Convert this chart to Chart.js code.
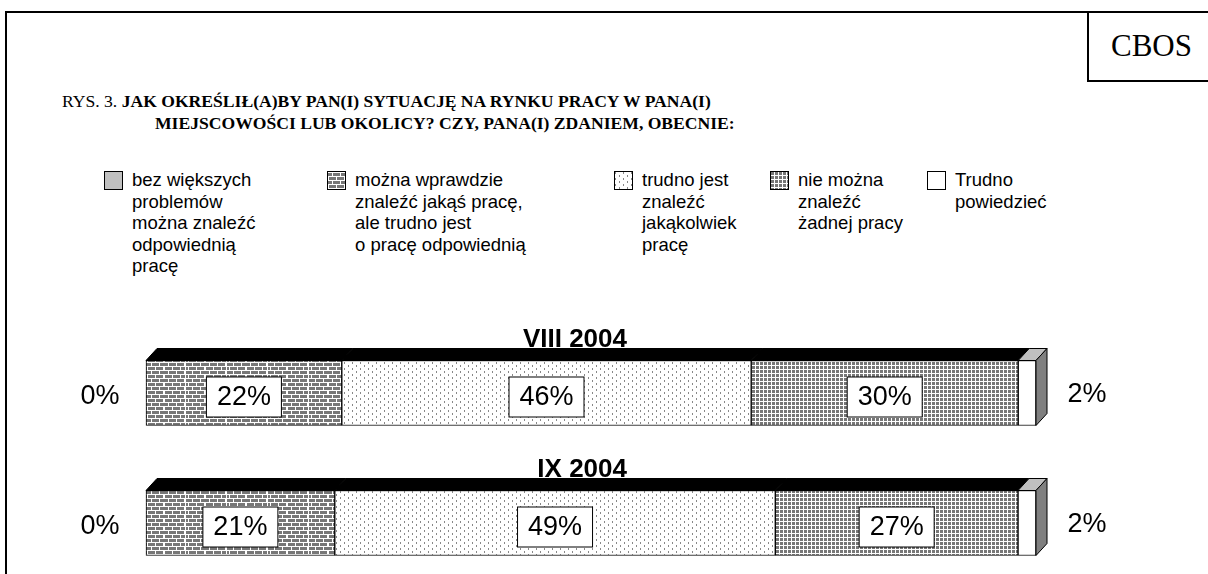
<!DOCTYPE html>
<html>
<head>
<meta charset="utf-8">
<script src="https://cdn.jsdelivr.net/npm/chart.js@4.4.1/dist/chart.umd.min.js"></script>
<style>
  body { margin: 0; width: 1208px; height: 574px; overflow: hidden; background: #fff; position: relative; font-family: Arial, "Liberation Sans", sans-serif; }
  .line { position: absolute; background: #000; }
  #cbos { position: absolute; left: 1087px; top: 11px; width: 121px; height: 71px; border-left: 2px solid #000; border-bottom: 2px solid #000; box-sizing: border-box;
          font-family: "Liberation Serif", "Times New Roman", serif; font-size: 31px; line-height: 69px; text-align: center; padding-left: 6px; }
  .title { position: absolute; font-family: "Liberation Serif", "Times New Roman", serif; font-size: 17.6px; font-weight: bold; white-space: nowrap; }
  .title span { font-weight: normal; }
  .leg { position: absolute; top: 169px; font-size: 18.5px; line-height: 21.5px; white-space: pre; }
  .sw { position: absolute; width: 19px; height: 19px; border: 1px solid #000; box-sizing: border-box; top: 171px; }
  #wrap { position: absolute; left: 0; top: 290px; width: 1208px; height: 284px; }
</style>
</head>
<body>
<div class="line" style="left:5px;top:11px;width:1203px;height:2px"></div>
<div class="line" style="left:5px;top:11px;width:2px;height:563px"></div>
<div id="cbos">CBOS</div>
<div class="title" style="left:62px;top:91px"><span>RYS. 3. </span>JAK OKREŚLIŁ(A)BY PAN(I) SYTUACJĘ NA RYNKU PRACY W PANA(I)</div>
<div class="title" style="left:155px;top:113px">MIEJSCOWOŚCI LUB OKOLICY? CZY, PANA(I) ZDANIEM, OBECNIE:</div>
<div id="legend"></div>
<div id="wrap"><canvas id="c" width="1208" height="284"></canvas></div>
<script>
const categories = ['VIII 2004', 'IX 2004'];
const legendLabels = [
  'bez większych\nproblemów\nmożna znaleźć\nodpowiednią\npracę',
  'można wprawdzie\nznaleźć jakąś pracę,\nale trudno jest\no pracę odpowiednią',
  'trudno jest\nznaleźć\njakąkolwiek\npracę',
  'nie można\nznaleźć\nżadnej pracy',
  'Trudno\npowiedzieć'
];
const bezProblemow = [0, 0];
const moznaWprawdzie = [22, 21];
const trudnoJest = [46, 49];
const nieMozna = [30, 27];
const trudnoPowiedziec = [2, 2];

const series = [bezProblemow, moznaWprawdzie, trudnoJest, nieMozna, trudnoPowiedziec];

// fill patterns, excel style
function tile(w, h, bg, draw) {
  const c = document.createElement('canvas');
  c.width = w; c.height = h;
  const x = c.getContext('2d');
  x.fillStyle = bg; x.fillRect(0, 0, w, h);
  draw(x);
  return c;
}
function bricks(w, seam) {
  return tile(w, 8, '#777', x => {
    x.fillStyle = '#fff';
    x.fillRect(0, 0, w, 1); x.fillRect(0, 4, w, 1);
    for (let i = 0; i < w; i += 4) {
      x.fillRect(i, (i / 4) % 2 ? 1 : 5, 1, 3);
    }
    if (seam) x.fillRect(21, 0, 1, 8);
  });
}
const tiles = [
  tile(4, 4, '#c0c0c0', () => {}),
  bricks(8, false),
  tile(8, 6, '#fff', x => {
    x.fillStyle = '#888';
    x.fillRect(0, 0, 1, 2); x.fillRect(4, 3, 1, 2);
  }),
  tile(4, 4, '#fff', x => {
    x.fillStyle = '#777';
    x.fillRect(0, 0, 3, 3);
  }),
  tile(4, 4, '#fff', () => {})
];
const ctx = document.getElementById('c').getContext('2d');
const patterns = tiles.map(t => ctx.createPattern(t, 'repeat'));
patterns[1] = ctx.createPattern(bricks(41, true), 'repeat');

// legend in html
const legX = [104, 327, 614, 770, 927];
const legend = document.getElementById('legend');
legendLabels.forEach((txt, i) => {
  const sw = document.createElement('div');
  sw.className = 'sw';
  sw.style.left = legX[i] + 'px';
  sw.style.backgroundImage = 'url(' + tiles[i].toDataURL() + ')';
  legend.appendChild(sw);
  const t = document.createElement('div');
  t.className = 'leg';
  t.style.left = (legX[i] + 28) + 'px';
  t.textContent = txt;
  legend.appendChild(t);
});

const totals = categories.map((_, i) => series.reduce((s, a) => s + a[i], 0));

const depth = { dx: 11, dy: 12 };
const topShade = ['#000', '#000', '#000', '#000', '#c0c0c0'];

const bars3d = {
  id: 'bars3d',
  afterDatasetsDraw(chart) {
    const c = chart.ctx;
    const area = chart.chartArea;
    c.save();
    c.lineWidth = 1;
    c.strokeStyle = '#000';
    categories.forEach((cat, i) => {
      let last = null;
      let top = 0, bottom = 0;
      for (let d = 0; d < series.length; d++) {
        const el = chart.getDatasetMeta(d).data[i];
        const l = Math.min(el.base, el.x), r = Math.max(el.base, el.x);
        top = el.y - el.height / 2; bottom = el.y + el.height / 2;
        if (r - l < 0.5) continue;
        c.beginPath();
        c.moveTo(l, top); c.lineTo(l + depth.dx, top - depth.dy);
        c.lineTo(r + depth.dx, top - depth.dy); c.lineTo(r, top); c.closePath();
        c.fillStyle = topShade[d]; c.fill(); c.stroke();
        last = { r, top, bottom };
      }
      if (last) {
        c.beginPath();
        c.moveTo(last.r, last.top); c.lineTo(last.r + depth.dx, last.top - depth.dy);
        c.lineTo(last.r + depth.dx, last.bottom - depth.dy); c.lineTo(last.r, last.bottom); c.closePath();
        c.fillStyle = '#808080'; c.fill(); c.stroke();
      }
      // category title
      c.fillStyle = '#000';
      c.font = 'bold 26px Arial, "Liberation Sans", sans-serif';
      c.textAlign = 'right';
      c.textBaseline = 'alphabetic';
      c.fillText(cat, (area.left + area.right) / 2 + 36, top - 14);

      // value labels
      c.font = '27px Arial, "Liberation Sans", sans-serif';
      c.textBaseline = 'middle';
      c.textAlign = 'center';
      for (let d = 0; d < series.length; d++) {
        const el = chart.getDatasetMeta(d).data[i];
        const txt = series[d][i] + '%';
        if (d === 0) {
          c.fillText(txt, el.base - 46, el.y + 4);
        } else if (d === series.length - 1) {
          c.fillText(txt, el.x + depth.dx + 40, el.y + 2);
        } else {
          const cx = (el.base + el.x) / 2, cy = el.y + 4;
          c.fillStyle = '#fff';
          c.fillRect(cx - 37.5, cy - 20, 75, 40);
          c.strokeRect(cx - 37.5, cy - 20, 75, 40);
          c.fillStyle = '#000';
          c.fillText(txt, cx, cy + 1);
        }
      }
    });
    c.restore();
  }
};

new Chart(ctx, {
  type: 'bar',
  data: {
    labels: categories,
    datasets: series.map((vals, d) => ({
      label: legendLabels[d],
      data: vals.map((v, i) => v / totals[i] * 100),
      backgroundColor: patterns[d],
      borderColor: '#000',
      borderWidth: 1,
      borderSkipped: false,
      barThickness: 65,
      clip: false
    }))
  },
  options: {
    indexAxis: 'y',
    responsive: false,
    animation: false,
    devicePixelRatio: 1,
    layout: { padding: { left: 146, right: 172, top: 103, bottom: 51 } },
    plugins: { legend: { display: false }, tooltip: { enabled: false } },
    scales: {
      x: { stacked: true, min: 0, max: 100, display: false },
      y: { stacked: true, offset: false, display: false }
    }
  },
  plugins: [bars3d]
});
</script>
</body>
</html>
